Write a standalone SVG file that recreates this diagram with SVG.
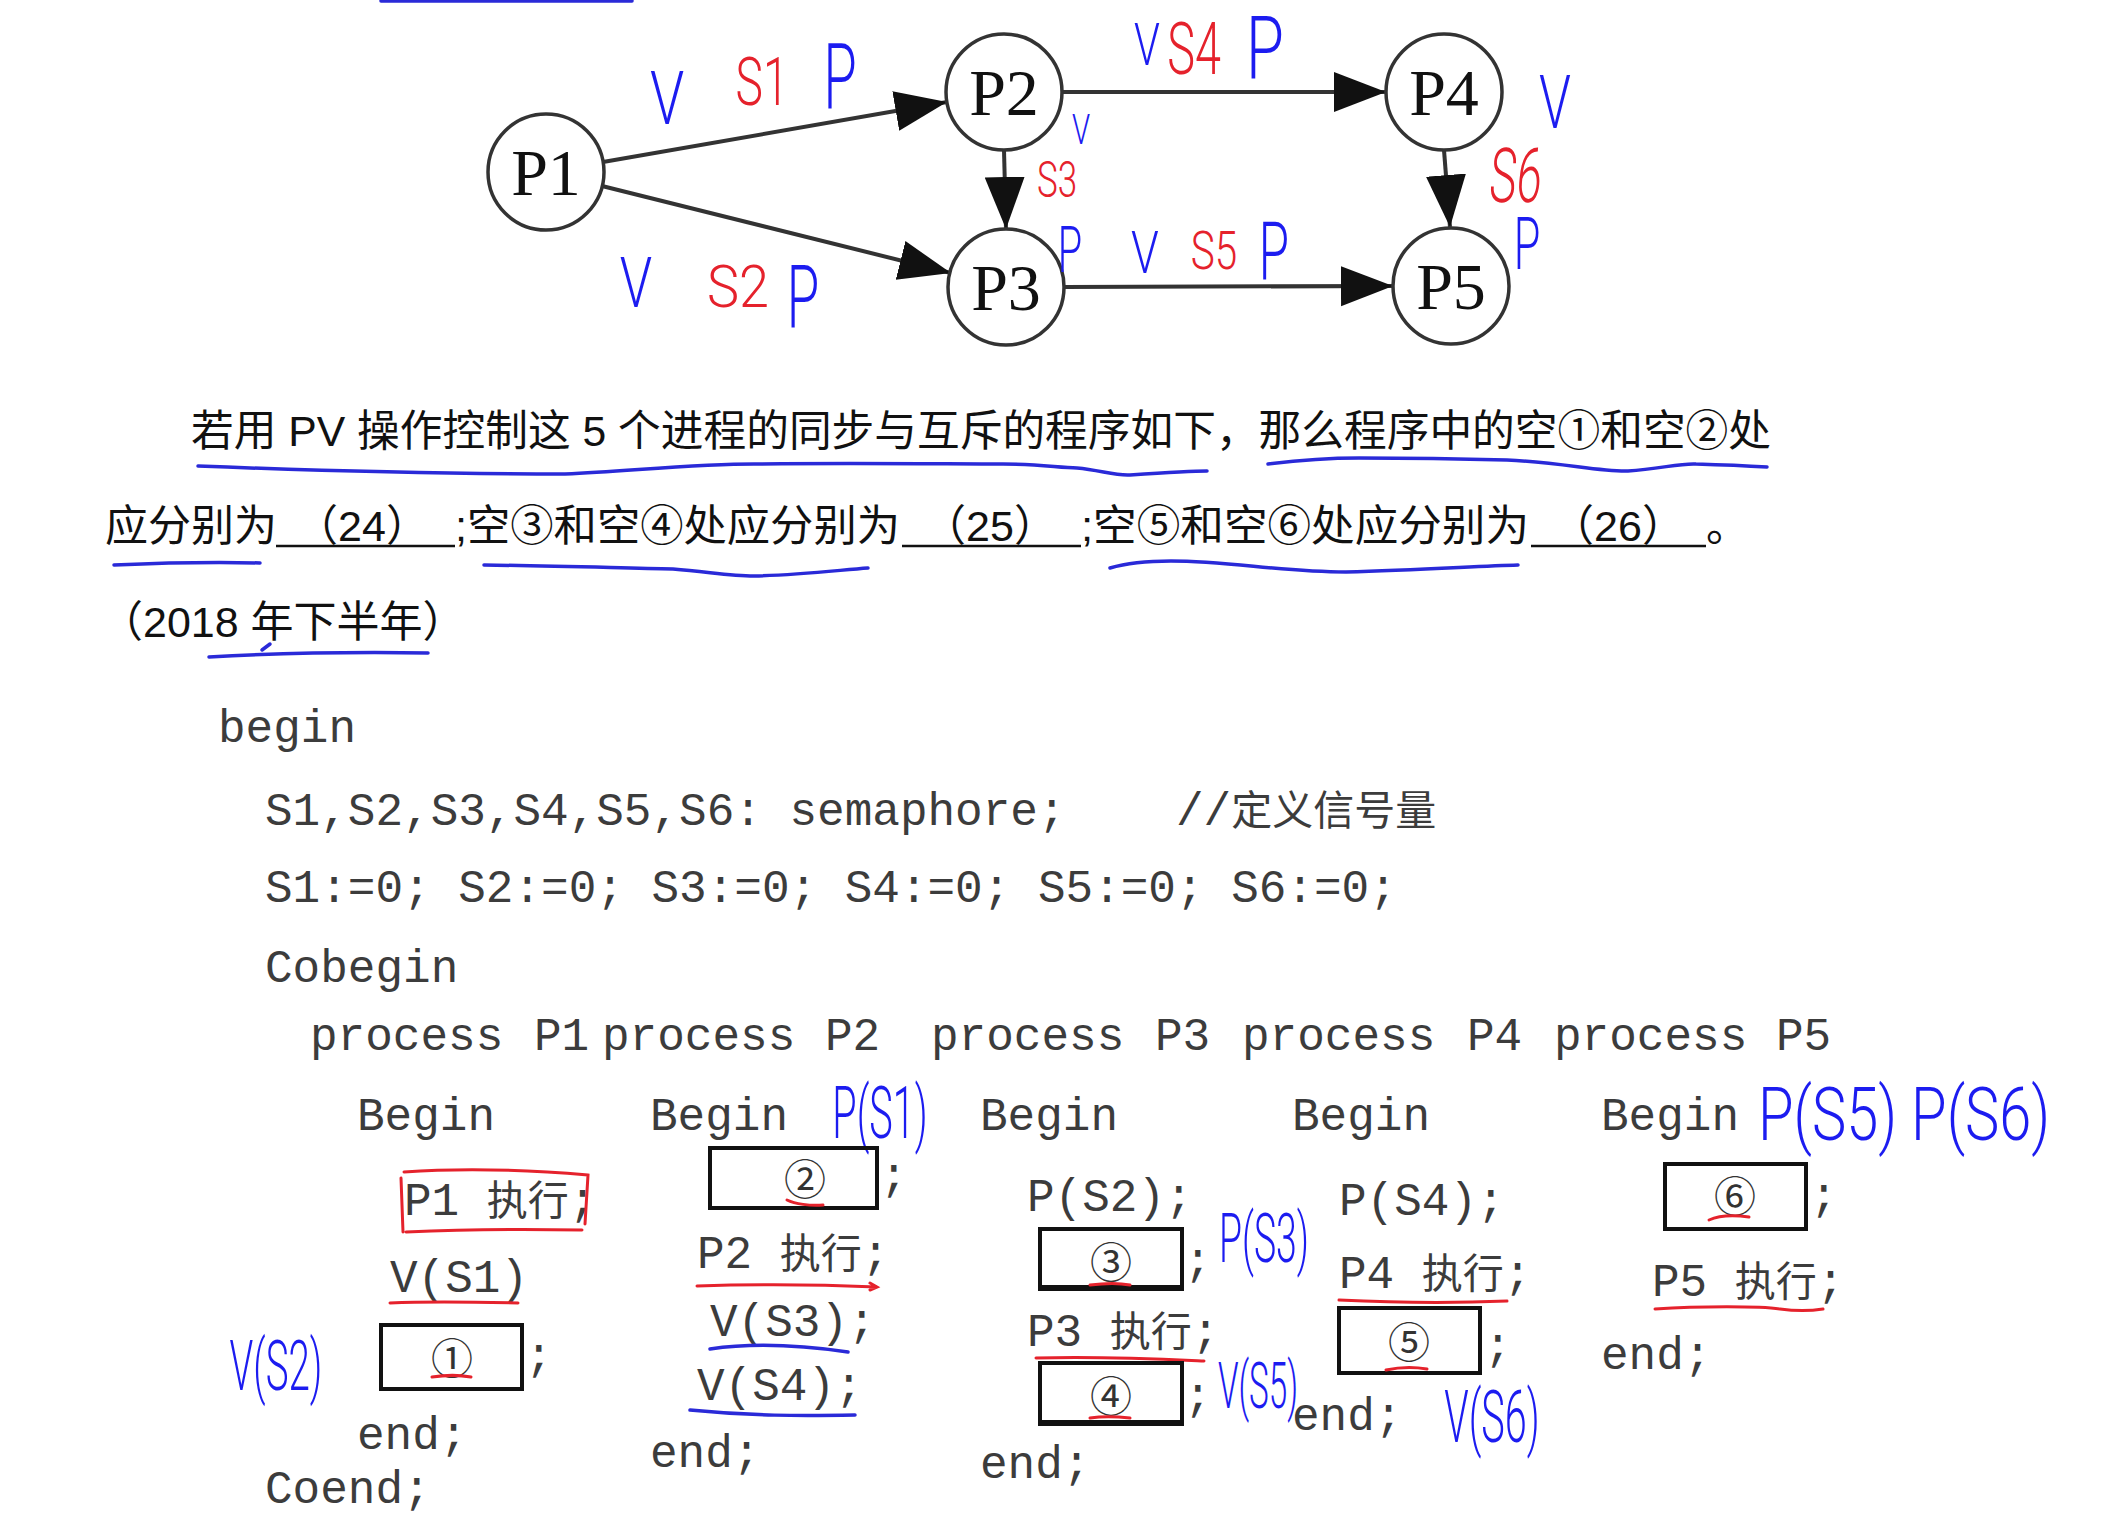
<svg xmlns="http://www.w3.org/2000/svg" width="2110" height="1528" viewBox="0 0 2110 1528">
<defs>
<style>
.node{fill:#fff;stroke:#333;stroke-width:3.5}
.nlab{font-family:"Liberation Serif","Times New Roman",serif;font-size:66px;fill:#111;text-anchor:middle}
.edge{stroke:#333;stroke-width:4;fill:none}
.hb{font-family:Roboto,Lato,"Liberation Sans",sans-serif;font-weight:300;fill:#1c1cf0;text-anchor:middle}
.hr{font-family:Roboto,Lato,"Liberation Sans",sans-serif;font-weight:300;fill:#e5222c;text-anchor:middle}
.hs{text-anchor:start}
.para{font-family:"Liberation Sans","Noto Sans CJK SC",sans-serif;font-size:43px;fill:#111}
.code{font-family:"Liberation Mono","Noto Sans CJK SC",monospace;font-size:46px;fill:#3c3c3c}
.cjk{font-family:"Noto Sans CJK SC",sans-serif;font-size:41px}
.circ{font-family:"Noto Sans CJK SC",sans-serif;font-size:42px;fill:#333;text-anchor:middle}
.box{fill:none;stroke:#111;stroke-width:4}
.ul{stroke:#111;stroke-width:2.5}
.bl{fill:none;stroke:#2a2ad8;stroke-width:3.5;stroke-linecap:round}
.rl{fill:none;stroke:#e5222c;stroke-width:3;stroke-linecap:round}
</style>
<marker id="arr" markerUnits="userSpaceOnUse" markerWidth="54" markerHeight="42" refX="52" refY="20" orient="auto">
<path d="M0,0 L52,20 L0,40 z" fill="#111"/>
</marker>
</defs>
<rect width="2110" height="1528" fill="#fff"/>
<line x1="381" y1="1" x2="632" y2="1" class="bl" stroke-width="3"/>

<g id="connectors">
<line class="edge" x1="603" y1="162" x2="947" y2="102" marker-end="url(#arr)"/>
<line class="edge" x1="602" y1="186" x2="951" y2="273" marker-end="url(#arr)"/>
<line class="edge" x1="1062" y1="92" x2="1386" y2="92" marker-end="url(#arr)"/>
<line class="edge" x1="1065" y1="287" x2="1393" y2="286" marker-end="url(#arr)"/>
<line class="edge" x1="1004" y1="150" x2="1006" y2="229" marker-end="url(#arr)"/>
<line class="edge" x1="1444" y1="150" x2="1450" y2="227" marker-end="url(#arr)"/>
</g>

<g id="P1"><circle class="node" cx="546" cy="172" r="58"/><text class="nlab" x="546" y="195">P1</text></g>
<g id="P2"><circle class="node" cx="1004" cy="92" r="58"/><text class="nlab" x="1004" y="115">P2</text></g>
<g id="P3"><circle class="node" cx="1006" cy="287" r="58"/><text class="nlab" x="1006" y="310">P3</text></g>
<g id="P4"><circle class="node" cx="1444" cy="92" r="58"/><text class="nlab" x="1444" y="115">P4</text></g>
<g id="P5"><circle class="node" cx="1451" cy="286" r="58"/><text class="nlab" x="1451" y="309">P5</text></g>

<g id="graph-notes">
<text class="hb" font-size="74" transform="translate(667,124) scale(0.75,1)">V</text>
<text class="hr" font-size="66" transform="translate(762,105) scale(0.7,1)">S1</text>
<text class="hb" font-size="90" transform="translate(840,108) scale(0.6,1)">P</text>
<text class="hb" font-size="70" transform="translate(636,307) scale(0.75,1)">V</text>
<text class="hr" font-size="60" transform="translate(738,307) scale(0.9,1)">S2</text>
<text class="hb" font-size="88" transform="translate(803,327) scale(0.6,1)">P</text>
<text class="hb" font-size="60" transform="translate(1147,65) scale(0.7,1)">V</text>
<text class="hr" font-size="72" transform="translate(1194,74) scale(0.65,1)">S4</text>
<text class="hb" font-size="88" transform="translate(1265,78) scale(0.7,1)">P</text>
<text class="hb" font-size="42" transform="translate(1081,144) scale(0.7,1)">V</text>
<text class="hr" font-size="50" transform="translate(1057,197) scale(0.7,1)">S3</text>
<text class="hb" font-size="64" transform="translate(1070,272) scale(0.62,1)">P</text>
<text class="hb" font-size="60" transform="translate(1145,273) scale(0.75,1)">V</text>
<text class="hr" font-size="54" transform="translate(1214,269) scale(0.75,1)">S5</text>
<text class="hb" font-size="82" transform="translate(1274,280) scale(0.6,1)">P</text>
<text class="hb" font-size="74" transform="translate(1555,128) scale(0.7,1)">V</text>
<text class="hr" font-size="76" transform="translate(1514,202) scale(0.6,1) skewX(-8)">S6</text>
<text class="hb" font-size="72" transform="translate(1527,269) scale(0.6,1)">P</text>
</g>

<g id="question">
<text class="para" x="191" y="446" textLength="1580" lengthAdjust="spacingAndGlyphs">若用 PV 操作控制这 5 个进程的同步与互斥的程序如下，那么程序中的空①和空②处</text>
<text class="para" x="105" y="541">应分别为</text>
<line class="ul" x1="276" y1="546" x2="455" y2="546"/>
<text class="para" x="362" y="541" text-anchor="middle">（24）</text>
<text class="para" x="455" y="541" textLength="445" lengthAdjust="spacingAndGlyphs">;空③和空④处应分别为</text>
<line class="ul" x1="902" y1="546" x2="1081" y2="546"/>
<text class="para" x="990" y="541" text-anchor="middle">（25）</text>
<text class="para" x="1081" y="541" textLength="448" lengthAdjust="spacingAndGlyphs">;空⑤和空⑥处应分别为</text>
<line class="ul" x1="1531" y1="546" x2="1706" y2="546"/>
<text class="para" x="1618" y="541" text-anchor="middle">（26）</text>
<text class="para" x="1706" y="541">。</text>
<text class="para" x="100" y="637">（2018 年下半年）</text>
<path class="bl" d="M198,466 C300,470 420,474 565,474 C640,470 700,464 754,464 C850,463 950,464 1003,464 C1040,464 1060,468 1077,468 C1100,470 1115,476 1130,475 C1160,473 1190,471 1207,471"/>
<path class="bl" d="M1268,464 C1300,460 1330,458 1359,458 C1420,458 1470,459 1507,460 C1560,462 1600,472 1628,471 C1660,469 1680,463 1696,464 C1730,465 1750,466 1767,467"/>
<path class="bl" d="M114,565 C160,563 220,562 260,563"/>
<path class="bl" d="M484,565 C560,566 620,568 673,569 C710,572 730,576 754,576 C800,575 840,570 868,568"/>
<path class="bl" d="M1110,568 C1130,562 1150,561 1171,561 C1230,561 1280,572 1346,572 C1420,570 1480,566 1518,565"/>
<path class="bl" d="M209,657 C280,653 360,652 428,653"/>
<path class="bl" d="M262,650 L270,644" stroke-width="2"/>
</g>

<g id="code">
<text class="code" x="218" y="742">begin</text>
<text class="code" x="265" y="825" xml:space="preserve">S1,S2,S3,S4,S5,S6: semaphore;    //<tspan class="cjk" font-size="46">定义信号量</tspan></text>
<text class="code" x="265" y="902">S1:=0; S2:=0; S3:=0; S4:=0; S5:=0; S6:=0;</text>
<text class="code" x="265" y="982">Cobegin</text>
<text class="code" y="1050"><tspan x="310">process</tspan><tspan x="534">P1</tspan><tspan x="602">process</tspan><tspan x="825">P2</tspan><tspan x="931">process</tspan><tspan x="1155">P3</tspan><tspan x="1242">process</tspan><tspan x="1467">P4</tspan><tspan x="1554">process</tspan><tspan x="1776">P5</tspan></text>

<!-- process P1 -->
<text class="code" x="357" y="1130">Begin</text>
<text class="code" x="404" y="1215">P1 <tspan class="cjk">执行</tspan>;</text>
<path class="rl" d="M403,1232 L401,1178 M404,1172 C460,1168 530,1170 588,1175 L585,1224 M406,1232 C470,1229 530,1229 582,1230"/>
<text class="code" x="390" y="1292">V(S1)</text>
<path class="rl" d="M390,1303 C430,1301 480,1302 518,1303"/>
<rect class="box" x="381" y="1325" width="141" height="64"/>
<text class="circ" x="452" y="1374">①</text>
<path class="rl" d="M432,1377 C445,1375 460,1375 471,1377"/>
<text class="code" x="525" y="1370">;</text>
<text class="code" x="357" y="1449">end;</text>
<text class="code" x="265" y="1503">Coend;</text>
<text class="hb" font-size="70" transform="translate(276,1390) scale(0.55,1)">V(S2)</text>

<!-- process P2 -->
<text class="code" x="650" y="1130">Begin</text>
<text class="hb" font-size="72" transform="translate(880,1138) scale(0.55,1)">P(S1)</text>
<rect class="box" x="710" y="1148" width="167" height="60"/>
<text class="circ" x="805" y="1195">②</text>
<path class="rl" d="M787,1200 C795,1204 810,1206 823,1205"/>
<text class="code" x="880" y="1190">;</text>
<text class="code" x="697" y="1268">P2 <tspan class="cjk">执行</tspan>;</text>
<path class="rl" d="M697,1286 C760,1284 830,1285 877,1287 M870,1283 L877,1287 L870,1290"/>
<text class="code" x="710" y="1336">V(S3);</text>
<path class="bl" d="M710,1349 C750,1343 800,1345 848,1352" stroke-width="3"/>
<text class="code" x="697" y="1400">V(S4);</text>
<path class="bl" d="M690,1410 C750,1416 800,1416 855,1415" stroke-width="3"/>
<text class="code" x="650" y="1467">end;</text>

<!-- process P3 -->
<text class="code" x="980" y="1130">Begin</text>
<text class="code" x="1027" y="1211">P(S2);</text>
<rect class="box" x="1040" y="1229" width="142" height="60"/>
<line x1="1040" y1="1288" x2="1182" y2="1288" stroke="#111" stroke-width="6"/>
<text class="circ" x="1111" y="1278">③</text>
<path class="rl" d="M1090,1285 C1105,1283 1120,1283 1130,1285"/>
<text class="code" x="1184" y="1275">;</text>
<text class="hb" font-size="68" transform="translate(1264,1262) scale(0.55,1)">P(S3)</text>
<text class="code" x="1027" y="1346">P3 <tspan class="cjk">执行</tspan>;</text>
<path class="rl" d="M1036,1358 C1100,1356 1160,1359 1204,1361"/>
<rect class="box" x="1040" y="1363" width="142" height="61"/>
<line x1="1040" y1="1423" x2="1182" y2="1423" stroke="#111" stroke-width="6"/>
<text class="circ" x="1111" y="1412">④</text>
<path class="rl" d="M1090,1418 C1105,1416 1120,1417 1130,1418"/>
<text class="code" x="1184" y="1410">;</text>
<text class="hb" font-size="64" transform="translate(1258,1408) scale(0.52,1)">V(S5)</text>
<text class="code" x="980" y="1478">end;</text>

<!-- process P4 -->
<text class="code" x="1292" y="1130">Begin</text>
<text class="code" x="1339" y="1215">P(S4);</text>
<text class="code" x="1339" y="1288">P4 <tspan class="cjk">执行</tspan>;</text>
<path class="rl" d="M1339,1300 C1400,1303 1460,1303 1507,1301"/>
<rect class="box" x="1339" y="1308" width="141" height="65"/>
<text class="circ" x="1409" y="1358">⑤</text>
<path class="rl" d="M1386,1370 C1400,1367 1415,1367 1427,1369"/>
<text class="code" x="1484" y="1360">;</text>
<text class="code" x="1292" y="1430">end;</text>
<text class="hb" font-size="72" transform="translate(1492,1442) scale(0.55,1)">V(S6)</text>

<!-- process P5 -->
<text class="code" x="1601" y="1130">Begin</text>
<text class="hb hs" font-size="74" transform="translate(1758,1140) scale(0.78,1)">P(S5) P(S6)</text>
<rect class="box" x="1665" y="1164" width="141" height="65"/>
<text class="circ" x="1735" y="1212">⑥</text>
<path class="rl" d="M1709,1220 C1720,1215 1735,1215 1749,1217"/>
<text class="code" x="1810" y="1210">;</text>
<text class="code" x="1652" y="1296">P5 <tspan class="cjk">执行</tspan>;</text>
<path class="rl" d="M1655,1309 C1700,1306 1760,1306 1780,1309 C1795,1311 1810,1311 1823,1309"/>
<text class="code" x="1601" y="1369">end;</text>
</g>
</svg>
